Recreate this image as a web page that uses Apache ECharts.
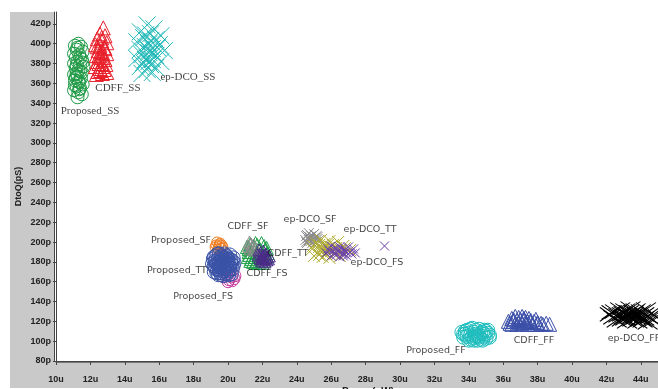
<!DOCTYPE html>
<html><head><meta charset="utf-8">
<script src="https://cdn.jsdelivr.net/npm/echarts@6/dist/echarts.min.js"></script>
<style>html,body{margin:0;padding:0;background:#fff}#c{width:658px;height:389px}</style>
</head><body><div id="c"></div>
<script>
// ---- data (x in uW, y in pS) ----
const xTicks = [10,12,14,16,18,20,22,24,26,28,30,32,34,36,38,40,42,44];
const yTicks = [80,100,120,140,160,180,200,220,240,260,280,300,320,340,360,380,400,420];

const proposedSS = [[11.30,400],[11.10,398],[11.45,397],[11.20,394],[11.55,392],[11.05,390],[11.35,389],[11.15,386],[11.50,384],[11.25,382],[11.05,380],[11.40,379],[11.60,377],[11.15,375],[11.30,373],[11.50,371],[11.05,369],[11.25,367],[11.45,365],[11.10,363],[11.35,361],[11.55,359],[11.20,357],[11.40,355],[11.05,353],[11.30,351],[11.50,349],[11.20,370],[11.40,386],[11.10,358],[11.55,381],[11.30,362],[11.35,354],[11.25,396],[11.25,346],[11.2,378],[11.4,372],[11.15,366]];
const cdffSS = [[12.75,416],[12.55,410],[12.85,408],[12.40,405],[12.65,403],[12.95,401],[12.30,399],[12.55,398],[12.80,396],[12.45,393],[12.70,391],[12.95,390],[12.35,388],[12.60,386],[12.85,384],[12.40,382],[12.65,380],[12.90,379],[12.30,377],[12.55,375],[12.80,374],[12.45,372],[12.70,370],[12.95,371],[12.35,369],[12.60,392],[12.75,386],[12.50,380],[12.85,395],[12.40,397],[12.65,406],[12.5,388],[12.7,377],[12.6,373]];
const epdcoSS = [[15.30,419],[15.70,415],[14.90,412],[15.50,410],[16.10,408],[15.10,406],[15.80,404],[14.70,402],[15.40,400],[16.00,399],[15.20,397],[15.60,395],[14.90,394],[16.30,393],[15.40,391],[15.00,389],[15.80,388],[15.30,386],[14.70,385],[15.60,384],[16.10,382],[15.10,381],[15.50,379],[14.90,377],[15.80,376],[15.30,374],[15.60,371],[15.00,370],[15.40,393],[15.20,384],[15.70,390],[15.50,403],[15.2,409],[15.9,396],[15.4,382]];
const proposedSF = [[19.35,200],[19.55,199],[19.30,197],[19.65,197],[19.45,196],[19.25,195],[19.60,194],[19.40,193],[19.50,198],[19.70,195]];
const proposedFS = [[19.95,166],[20.20,165],[20.35,163],[20.05,162],[20.25,161],[20.00,160],[20.40,166]];
const proposedTT = [[19.5,188],[19.8,188],[20.1,187],[19.3,186],[19.65,185],[19.95,185],[20.3,184],[19.15,183],[19.45,183],[19.8,182],[20.15,182],[19.3,180],[19.6,180],[19.95,179],[20.35,179],[19.1,178],[19.45,177],[19.75,177],[20.1,176],[19.25,175],[19.6,174],[19.9,174],[20.25,173],[19.4,172],[19.7,171],[20.05,171],[19.2,170],[19.55,169],[19.85,168],[20.2,168],[19.6,167],[19.9,178],[19.5,180],[20.0,181],[19.7,184],[19.35,178],[20.05,176],[19.8,173],[19.55,175],[19.9,186],
  [19.2,185],[19.4,188],[19.6,186],[19.85,184],[20.0,183],[20.25,181],[19.25,181],[19.4,179],[19.7,179],[20.2,178],[19.2,176],[19.5,176],[19.85,176],[20.3,176],[19.3,173],[19.5,172],[19.75,173],[20.1,173],[19.35,169],[19.65,169],[20.0,169],[19.45,167],[19.75,166],[20.05,167],[19.6,182],[19.75,181],[19.95,182],[19.65,177],[19.8,171],[20.15,179]];
const cdffSF = [[21.25,200],[21.35,198],[21.5,197],[21.2,196],[21.4,195],[21.6,194],[21.3,193],[21.5,192]];
const cdffFS = [[21.3,198],[21.7,197],[21.95,199],[21.5,195],[21.2,193],[21.85,193],[22.15,192],[21.4,190],[21.65,189],[22.0,188],[21.25,187],[21.55,185],[21.9,184],[22.2,185],[21.35,183],[21.7,181],[22.05,181],[21.45,180],[21.8,179],[21.2,190],[22.1,196],[21.1,195],[21.15,185],[21.3,181],[21.6,179],[22.0,179],[22.3,189],[21.6,199],[22.25,194]];
const cdffTT = [[21.8,192],[22.05,191],[21.9,189],[22.2,188],[21.75,187],[22.0,186],[22.3,185],[21.85,184],[22.1,183],[21.95,181],[22.25,182],[22.1,187],[22.2,184],[22.35,183],[21.95,183],[22.15,180],[22.4,186],[22.05,185]];
const epdcoSF = [[24.7,209],[25.0,208],[24.55,206],[24.85,206],[25.2,205],[24.65,204],[24.95,203],[25.3,202],[24.5,202],[24.8,201],[25.1,200],[24.6,199],[24.9,199],[25.15,206],[24.6,207],[24.75,205],[25.05,204],[24.7,202],[25.0,201],[24.8,203],[25.2,203],[24.55,200]];
const epdcoTT = [[25.4,202],[25.9,201],[26.4,200],[25.1,199],[25.6,198],[26.1,197],[26.7,196],[25.3,195],[25.8,194],[26.3,194],[24.9,193],[25.5,192],[26.0,191],[26.6,191],[27.1,192],[25.2,189],[25.7,188],[26.2,188],[25.0,186],[25.5,185],[25.9,184],[26.5,186],[25.3,197],[25.6,195],[25.8,197],[26.0,195],[25.45,190],[25.75,191],[26.3,190],[25.3,187],[26.8,194],[24.95,196]];
const epdcoFS = [[26.0,196],[26.5,195],[27.0,195],[25.8,193],[26.3,193],[26.8,192],[27.3,193],[26.1,191],[26.6,190],[27.1,190],[25.7,189],[26.2,188],[26.7,188],[27.4,189],[26.0,186],[26.5,185],[26.9,186],[29.1,196],[26.2,194],[26.6,193],[26.4,191],[26.85,190],[26.3,187],[26.7,186],[27.2,188],[25.9,191]];
const proposedFF = [[34.2,113],[34.6,112],[33.9,111],[34.9,111],[33.6,109],[34.3,109],[34.7,108],[35.1,108],[33.8,107],[34.1,106],[34.5,105],[34.9,105],[35.2,106],[33.7,104],[34.3,103],[34.7,102],[34.0,101],[34.5,101],[35.0,103],[34.4,107],
  [33.8,110],[34.1,112],[34.4,111],[34.8,109],[35.0,110],[33.9,105],[34.2,104],[34.6,104],[34.9,107],[35.2,104],[34.1,102],[34.8,101],[33.7,107],[34.4,105],[34.6,106],[34.0,108],[34.3,101],[35.1,111]];
const cdffFF = [[36.3,120],[36.5,123],[36.7,125],[36.9,124],[37.1,125],[37.3,124],[37.5,123],[36.4,118],[36.6,120],[36.8,121],[37.0,122],[37.2,121],[37.4,120],[37.6,121],[37.8,120],[38.0,119],[38.2,118],[38.5,118],[38.7,117],[36.5,117],[36.8,117],[37.1,118],[37.4,117],[37.7,117],[38.0,117],[38.3,117],[36.9,119],[37.3,119],[37.6,119],[37.9,122],[36.6,122],[37.2,123]];
const epdcoFF = [[42.2,127],[42.5,130],[42.8,132],[43.1,131],[43.4,133],[43.7,131],[44.0,130],[44.3,132],[44.6,128],[42.4,124],[42.7,126],[43.0,128],[43.3,125],[43.6,127],[43.9,125],[44.2,127],[44.5,124],[44.8,126],[42.6,121],[42.9,122],[43.2,120],[43.5,122],[43.8,120],[44.1,121],[44.4,119],[44.7,121],[42.3,129],[43.0,124],[43.6,129],[44.2,123],[42.9,127],[43.3,129],[43.8,127],[43.1,123],[43.5,125],[44.0,123],[43.2,126],[43.7,124]];

// cluster annotations (data units)
const labelNames = ['Proposed_SS','CDFF_SS','ep-DCO_SS','Proposed_SF','Proposed_TT','Proposed_FS','CDFF_SF','CDFF_TT','CDFF_FS','ep-DCO_SF','ep-DCO_TT','ep-DCO_FS','Proposed_FF','CDFF_FF','ep-DCO_FF'];
const labelAt = [[11.98,332],[13.6,355],[17.67,366],[17.27,202],[17.03,171],[18.55,145],[21.16,216],[23.49,188],[22.27,168],[24.77,223],[28.26,213],[28.66,179],[32.09,91],[37.79,101],[43.6,103]];

const CROSS = 'path://M0,0L10,10M10,0L0,10';
function sc(name, data, symbol, size, color, z){
  return {type:'scatter', name, data, symbol, symbolSize:size, z:z||2,
    itemStyle:{color:'rgba(0,0,0,0)', borderColor:color, borderWidth:1, opacity:1},
    emphasis:{disabled:true}};
}
const serifSet = {'Proposed_SS':1,'CDFF_SS':1,'ep-DCO_SS':1};
const labelData = labelNames.map((n,i)=>({name:n, value:labelAt[i],
  label:{fontFamily: serifSet[n] ? 'Liberation Serif' : 'DejaVu Sans', fontSize: serifSet[n]?11:9.5}}));

const axisFont = {color:'#222', fontSize:9, fontWeight:'bold', fontFamily:'Liberation Sans'};
const chart = echarts.init(document.getElementById('c'), null, {renderer:'canvas'});
chart.setOption({
  animation:false,
  backgroundColor:'#ffffff',
  graphic:[
    {type:'rect', z:-10, shape:{x:10,y:12,width:45,height:376}, style:{fill:'#c9c9c9'}, silent:true},
    {type:'rect', z:-10, shape:{x:10,y:362,width:648,height:26}, style:{fill:'#c9c9c9'}, silent:true}
  ],
  grid:{left:56, right:0, top:12, bottom:28, containLabel:false, outerBoundsMode:'none'},
  xAxis:[{type:'value', min:10, max:45, interval:2,
    axisLine:{show:true, onZero:false, lineStyle:{color:'#444', width:1}},
    axisTick:{show:true, length:4, lineStyle:{color:'#444'}},
    axisLabel:Object.assign({formatter:v=>v+'u', margin:14, showMaxLabel:false}, axisFont),
    splitLine:{show:false},
    name:'Power(uW)', nameLocation:'middle', nameGap:26, nameMoveOverlap:false,
    nameTextStyle:{color:'#222', fontSize:10, fontWeight:'bold', fontFamily:'Liberation Sans', padding:[0,0,0,22]}},
    {type:'value', min:10, max:45, position:'bottom', offset:1.5,
     axisLine:{show:true, onZero:false, lineStyle:{color:'#777', width:1}},
     axisTick:{show:false}, axisLabel:{show:false}, splitLine:{show:false}}
  ],
  yAxis:[{type:'value', min:80, max:432, interval:20,
    axisLine:{show:true, onZero:false, lineStyle:{color:'#444', width:1}},
    axisTick:{show:true, length:3, lineStyle:{color:'#444'}},
    axisLabel:Object.assign({formatter:v=>v+'p', margin:5, showMaxLabel:false}, axisFont),
    splitLine:{show:false},
    name:'DtoQ(pS)', nameLocation:'middle', nameGap:33, nameRotate:90, nameMoveOverlap:false,
    nameTextStyle:{color:'#222', fontSize:9, fontWeight:'bold', fontFamily:'Liberation Sans'}},
    {type:'value', min:80, max:432, position:'left', offset:2,
     axisLine:{show:true, onZero:false, lineStyle:{color:'#444', width:1}},
     axisTick:{show:false}, axisLabel:{show:false}, splitLine:{show:false}}
  ],
  series:[
    sc('Proposed_SS', proposedSS, 'circle', 13, '#1f9a45'),
    sc('CDFF_SS', cdffSS, 'triangle', 14, '#e8202a'),
    sc('ep-DCO_SS', epdcoSS, CROSS, 17, '#1fb8b8'),
    sc('Proposed_SF', proposedSF, 'circle', 10, '#f07a1a'),
    sc('Proposed_FS', proposedFS, 'circle', 12, '#c43e9e'),
    sc('Proposed_TT', proposedTT, 'circle', 14, '#3a52a6'),
    sc('CDFF_FS', cdffFS, 'triangle', 13, '#1ea048'),
    sc('CDFF_SF', cdffSF, 'triangle', 12, '#8c8c8c'),
    sc('CDFF_TT', cdffTT, 'triangle', 12, '#4a2a88'),
    sc('ep-DCO_SF', epdcoSF, CROSS, 10, '#8c8c8c'),
    sc('ep-DCO_TT', epdcoTT, CROSS, 12, '#b0ac30'),
    sc('ep-DCO_FS', epdcoFS, CROSS, 9, '#6a40a8'),
    sc('Proposed_FF', proposedFF, 'circle', 14, '#1fbdbd'),
    sc('CDFF_FF', cdffFF, 'triangle', 14, '#3a4fa8'),
    sc('ep-DCO_FF', epdcoFF, CROSS, [20,14], '#000000'),
    {type:'scatter', name:'labels', data:labelData, symbolSize:1, z:5, clip:false,
     itemStyle:{color:'rgba(0,0,0,0)'}, emphasis:{disabled:true},
     label:{show:true, position:'inside', formatter:'{b}', color:'#111'}}
  ]
});
</script></body></html>
